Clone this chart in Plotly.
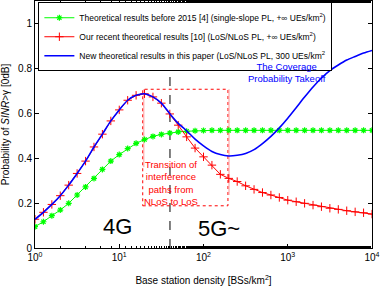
import plotly.graph_objects as go

# Base station density grid (BSs/km^2), 0.1-decade steps from 10^0 to 10^4
density = [1, 1.259, 1.585, 1.995, 2.512, 3.162, 3.981, 5.012, 6.310, 7.943,
           10, 12.59, 15.85, 19.95, 25.12, 31.62, 39.81, 50.12, 63.10, 79.43,
           100, 125.9, 158.5, 199.5, 251.2, 316.2, 398.1, 501.2, 631.0, 794.3,
           1000, 1259, 1585, 1995, 2512, 3162, 3981, 5012, 6310, 7943, 10000]

green_vals = [0.095, 0.117, 0.144, 0.169, 0.199, 0.236, 0.272, 0.310, 0.350, 0.387,
              0.416, 0.443, 0.466, 0.483, 0.497, 0.506, 0.512, 0.517, 0.520, 0.522,
              0.523, 0.524, 0.524, 0.524, 0.524, 0.524, 0.524, 0.524, 0.524, 0.524,
              0.524, 0.524, 0.524, 0.524, 0.524, 0.524, 0.524, 0.524, 0.524, 0.524, 0.524]

red_vals = [0.128, 0.159, 0.194, 0.233, 0.280, 0.332, 0.387, 0.450, 0.507, 0.566,
            0.615, 0.658, 0.680, 0.687, 0.673, 0.645, 0.597, 0.547, 0.495, 0.445,
            0.406, 0.369, 0.328, 0.310, 0.296, 0.277, 0.261, 0.247, 0.236, 0.225,
            0.213, 0.206, 0.199, 0.191, 0.184, 0.177, 0.172, 0.166, 0.161, 0.157, 0.151]

blue_vals = [0.128, 0.159, 0.194, 0.233, 0.280, 0.332, 0.387, 0.450, 0.507, 0.566,
             0.615, 0.658, 0.680, 0.687, 0.673, 0.645, 0.598, 0.555, 0.522, 0.485,
             0.455, 0.430, 0.416, 0.410, 0.413, 0.421, 0.438, 0.465, 0.497, 0.535,
             0.578, 0.625, 0.672, 0.717, 0.757, 0.790, 0.815, 0.837, 0.853, 0.868, 0.880]

x_tickvals = [1, 10, 100, 1000, 10000]
x_ticktext = ["10<sup>0</sup>", "10<sup>1</sup>", "10<sup>2</sup>", "10<sup>3</sup>", "10<sup>4</sup>"]
y_tickvals = [0, 0.2, 0.4, 0.6, 0.8, 1]
y_ticktext = ["0", "0.2", "0.4", "0.6", "0.8", "1"]

legend_names = [
    "Theoretical results before 2015 [4] (single-slope PL, +∞ UEs/km<sup>2</sup>)",
    "Our recent theoretical results [10] (LoS/NLoS PL, +∞ UEs/km<sup>2</sup>)",
    "New theoretical results in this paper (LoS/NLoS PL, 300 UEs/km<sup>2</sup>",
]

split_density = 40
box_x = [19, 195]
box_y = [0.188, 0.707]
edge_bottoms = [0.36, 0.236]

FONT = "Liberation Sans, Arial, sans-serif"

fig = go.Figure()
fig.add_trace(go.Scatter(
    x=density, y=green_vals, mode="lines+markers", name=legend_names[0],
    line=dict(color="#00ff00", width=1),
    marker=dict(symbol="asterisk-open", size=5, color="#00ff00",
                line=dict(color="#00ff00", width=1.2))))
fig.add_trace(go.Scatter(
    x=density, y=red_vals, mode="lines+markers", name=legend_names[1],
    line=dict(color="#ff0000", width=1),
    marker=dict(symbol="cross-thin-open", size=6, color="#ff0000",
                line=dict(color="#ff0000", width=1))))
fig.add_trace(go.Scatter(
    x=density, y=blue_vals, mode="lines", name=legend_names[2],
    line=dict(color="#0000ff", width=1.6, shape="spline", smoothing=0.8)))

# vertical dashed separator
fig.add_shape(type="line", xref="x", yref="paper", x0=split_density, x1=split_density,
              y0=0, y1=1, line=dict(color="black", width=1, dash="dash"), layer="below")
# transition box
fig.add_shape(type="rect", xref="x", yref="y", x0=box_x[0], x1=box_x[1],
              y0=box_y[0], y1=box_y[1], line=dict(color="#ff0000", width=1, dash="dot"),
              layer="below")
for bx, bb in zip(box_x, edge_bottoms):
    fig.add_shape(type="line", xref="x", yref="y", x0=bx * 1.03, x1=bx * 1.03,
                  y0=bb, y1=box_y[1], line=dict(color="#ff9a9a", width=1),
                  layer="below")

fig.add_annotation(x=2.99, y=0.782, xref="x", yref="y", showarrow=False,
                   text="The Coverage<br>Probability Takeoff",
                   font=dict(family=FONT, size=9.5, color="#0000ff"), align="center")
fig.add_annotation(x=1.61, y=0.29, xref="x", yref="y", showarrow=False,
                   text="Transition of<br>interference<br>paths from<br>NLoS to LoS",
                   font=dict(family=FONT, size=9.5, color="#ff0000"), align="center")
fig.add_annotation(x=0.985, y=0.094, xref="x", yref="y", showarrow=False,
                   text="4G", font=dict(family=FONT, size=22, color="black"))
fig.add_annotation(x=2.18, y=0.089, xref="x", yref="y", showarrow=False,
                   text="5G~", font=dict(family=FONT, size=22, color="black"))

axis_common = dict(showline=True, linecolor="black", linewidth=1, mirror="ticks",
                   ticks="inside", ticklen=4, tickcolor="black", showgrid=False,
                   zeroline=False, automargin=False,
                   tickfont=dict(family=FONT, size=10, color="black"))

fig.update_xaxes(type="log", range=[0, 4], tickmode="array",
                 tickvals=x_tickvals, ticktext=x_ticktext,
                 title=dict(text="Base station density [BSs/km<sup>2</sup>]",
                            font=dict(family=FONT, size=10, color="black")),
                 minor=dict(ticks="inside", ticklen=2, tickcolor="black", showgrid=False),
                 **axis_common)
fig.update_yaxes(range=[0, 1.1], tickmode="array", tickvals=y_tickvals, ticktext=y_ticktext,
                 title=dict(text="Probability of <i>SINR</i>>γ [0dB]",
                            font=dict(family=FONT, size=10, color="black")),
                 **axis_common)

fig.update_layout(
    width=382, height=286,
    margin=dict(l=35, r=10, t=1, b=38),
    paper_bgcolor="white", plot_bgcolor="white",
    showlegend=True,
    legend=dict(x=0.01, y=0.995, xanchor="left", yanchor="top",
                bgcolor="white", bordercolor="black", borderwidth=1,
                font=dict(family=FONT, size=8.5, color="black"),
                tracegroupgap=0, itemwidth=30),
)

fig.write_html("out.html", config={"displayModeBar": False},
               post_script="document.body.style.margin='0';document.body.style.padding='0';")
